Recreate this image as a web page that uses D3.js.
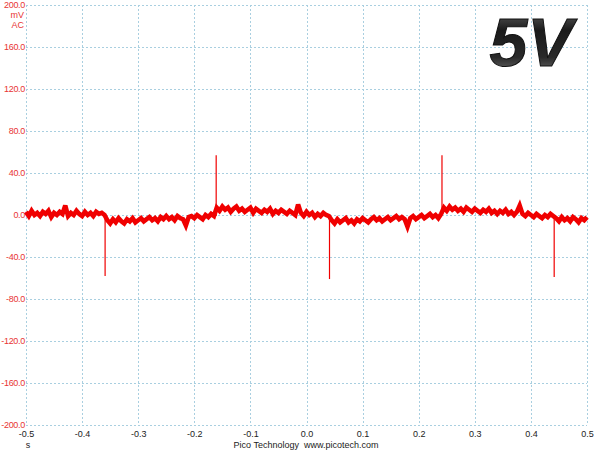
<!DOCTYPE html>
<html><head><meta charset="utf-8">
<script src="https://cdn.jsdelivr.net/npm/d3@7"></script>
<style>body{margin:0;background:#fff}svg{display:block}</style>
</head><body>
<svg id="c" width="600" height="450"></svg>
<script>
const xTicks = [-0.5,-0.4,-0.3,-0.2,-0.1,0.0,0.1,0.2,0.3,0.4,0.5];
const yTicks = [200,160,120,80,40,0,-40,-80,-120,-160,-200];
const sampleTimes = [-0.5,-0.495,-0.49,-0.485,-0.48,-0.475,-0.47,-0.465,-0.46,-0.455,-0.45,-0.445,-0.44,-0.435,-0.43,-0.425,-0.42,-0.415,-0.41,-0.405,-0.4,-0.395,-0.39,-0.385,-0.38,-0.375,-0.37,-0.365,-0.36,-0.355,-0.35,-0.345,-0.34,-0.335,-0.33,-0.325,-0.32,-0.315,-0.31,-0.305,-0.3,-0.295,-0.29,-0.285,-0.28,-0.275,-0.27,-0.265,-0.26,-0.255,-0.25,-0.245,-0.24,-0.235,-0.23,-0.225,-0.22,-0.215,-0.21,-0.205,-0.2,-0.195,-0.19,-0.185,-0.18,-0.175,-0.17,-0.165,-0.16,-0.155,-0.15,-0.145,-0.14,-0.135,-0.13,-0.125,-0.12,-0.115,-0.11,-0.105,-0.1,-0.095,-0.09,-0.085,-0.08,-0.075,-0.07,-0.065,-0.06,-0.055,-0.05,-0.045,-0.04,-0.035,-0.03,-0.025,-0.02,-0.015,-0.01,-0.005,0,0.005,0.01,0.015,0.02,0.025,0.03,0.035,0.04,0.045,0.05,0.055,0.06,0.065,0.07,0.075,0.08,0.085,0.09,0.095,0.1,0.105,0.11,0.115,0.12,0.125,0.13,0.135,0.14,0.145,0.15,0.155,0.16,0.165,0.17,0.175,0.18,0.185,0.19,0.195,0.2,0.205,0.21,0.215,0.22,0.225,0.23,0.235,0.24,0.245,0.25,0.255,0.26,0.265,0.27,0.275,0.28,0.285,0.29,0.295,0.3,0.305,0.31,0.315,0.32,0.325,0.33,0.335,0.34,0.345,0.35,0.355,0.36,0.365,0.37,0.375,0.38,0.385,0.39,0.395,0.4,0.405,0.41,0.415,0.42,0.425,0.43,0.435,0.44,0.445,0.45,0.455,0.46,0.465,0.47,0.475,0.48,0.485,0.49,0.495,0.5];
const sampleValues = [
 3,-1,4,0,2,-1,3,1,4,-2,2,0,3,1,9,-1,2,0,4,1,-1,3,0,2,-1,3,1,2,0,
 -5,-8,-4,-7,-3,-6,-8,-4,-6,-3,-7,-5,-3,-6,-4,-2,-5,-3,-6,-2,-4,-1,-4,-2,-5,-1,-3,-4,-10,-2,-1,-3,0,-2,-4,0,-2,1,-1,
 7,4,8,5,7,3,6,8,4,6,3,5,7,2,6,4,2,5,3,6,1,4,2,5,3,1,4,2,0,10,2,-1,3,0,2,-2,1,-1,2,0,-1,
 -5,-8,-4,-7,-5,-3,-7,-5,-8,-4,-6,-3,-5,-7,-4,-2,-5,-3,-6,-4,-2,-5,-3,-1,-4,-2,-4,-11,-3,-1,-4,-2,0,-3,-1,1,-2,0,-3,1,
 7,4,8,5,7,4,6,3,7,5,3,6,4,2,5,3,6,2,4,1,4,2,5,1,3,0,3,9,1,-1,2,0,-2,1,-1,-3,0,-2,1,-1,
 -3,-6,-2,-5,-3,-6,-2,-4,-7,-3,-5,-2
];
const spikeTimes = [-0.359, -0.161, 0.041, 0.2415, 0.4415];
const spikeBase = [0, -1, -1, 1, -1];
const spikePeaks = [-58, 57, -61, 57, -59];

const FONT = 'Liberation Sans, Arial, sans-serif';
const svg = d3.select('#c');
const L = 26, R = 587, T = 5, B = 425;
const x = d3.scaleLinear().domain([-0.5,0.5]).range([L,R]);
const y = d3.scaleLinear().domain([-200,200]).range([B,T]);
const fmt = d => d3.format('.1f')(d).replace('\u2212','-');

const defs = svg.append('defs');
const g = defs.append('linearGradient').attr('id','gv').attr('x1',0).attr('y1',0).attr('x2',0).attr('y2',1);
g.append('stop').attr('offset','0%').attr('stop-color','#707070');
g.append('stop').attr('offset','35%').attr('stop-color','#1a1a1a');
g.append('stop').attr('offset','70%').attr('stop-color','#2a2a2a');
g.append('stop').attr('offset','100%').attr('stop-color','#808080');

// grid
const grid = svg.append('g').attr('stroke','#a9cfe0').attr('stroke-width',1).attr('stroke-dasharray','2,2');
grid.selectAll('line.v').data(xTicks).enter().append('line')
  .attr('x1',d=>Math.round(x(d))+0.5).attr('x2',d=>Math.round(x(d))+0.5).attr('y1',T).attr('y2',B);
grid.selectAll('line.h').data(yTicks).enter().append('line')
  .attr('y1',d=>Math.round(y(d))+0.5).attr('y2',d=>Math.round(y(d))+0.5).attr('x1',L).attr('x2',R);

// axes
const yAxis = d3.axisLeft(y).tickValues(yTicks).tickSize(0).tickPadding(1).tickFormat(fmt);
const ya = svg.append('g').attr('transform',`translate(${L},0)`).call(yAxis);
ya.select('.domain').remove();
ya.selectAll('text').attr('fill','#e83434').style('font-family',FONT).style('font-size','9px').style('letter-spacing','-0.3px');

const xAxis = d3.axisBottom(x).tickValues(xTicks).tickSize(0).tickPadding(6).tickFormat(fmt);
const xa = svg.append('g').attr('transform',`translate(0,${B})`).call(xAxis);
xa.select('.domain').remove();
xa.selectAll('text').attr('fill','#222').style('font-family',FONT).style('font-size','9px');

const txt = (s,tx,ty,anchor,fill)=>svg.append('text').text(s).attr('x',tx).attr('y',ty)
  .attr('text-anchor',anchor).attr('fill',fill).attr('xml:space','preserve')
  .style('font-family',FONT).style('font-size','9px').style('white-space','pre');
txt('mV',24,18,'end','#e83434');
txt('AC',24,28,'end','#e83434');
txt('s',28,448,'middle','#222');
txt('Pico Technology  www.picotech.com',306,448,'middle','#222');

// trace (noisy band)
const pts = sampleTimes.map((t,i)=>[t,sampleValues[i]]);
const line = d3.line().x(d=>x(d[0])).y(d=>y(d[1]));
svg.append('path').datum(pts).attr('d',line).attr('fill','none').attr('stroke','#f00000')
  .attr('stroke-width',4.6).attr('stroke-linejoin','miter').attr('stroke-miterlimit',3);
svg.append('path').datum(pts).attr('d',line).attr('fill','none').attr('stroke','#f00000')
  .attr('stroke-width',1);
// spikes
svg.append('g').selectAll('line').data(spikeTimes).enter().append('line')
  .attr('x1',d=>x(d)).attr('x2',d=>x(d))
  .attr('y1',(d,i)=>y(spikeBase[i])).attr('y2',(d,i)=>y(spikePeaks[i]))
  .attr('stroke','#f00000').attr('stroke-width',1.2);

// 5V label
svg.append('text').text('5V').attr('x',531).attr('y',66).attr('text-anchor','middle')
  .attr('fill','url(#gv)').attr('stroke','#111').attr('stroke-width',1)
  .style('font-family',FONT).style('font-size','68px')
  .style('font-weight','bold').style('font-style','italic');
</script>
</body></html>
